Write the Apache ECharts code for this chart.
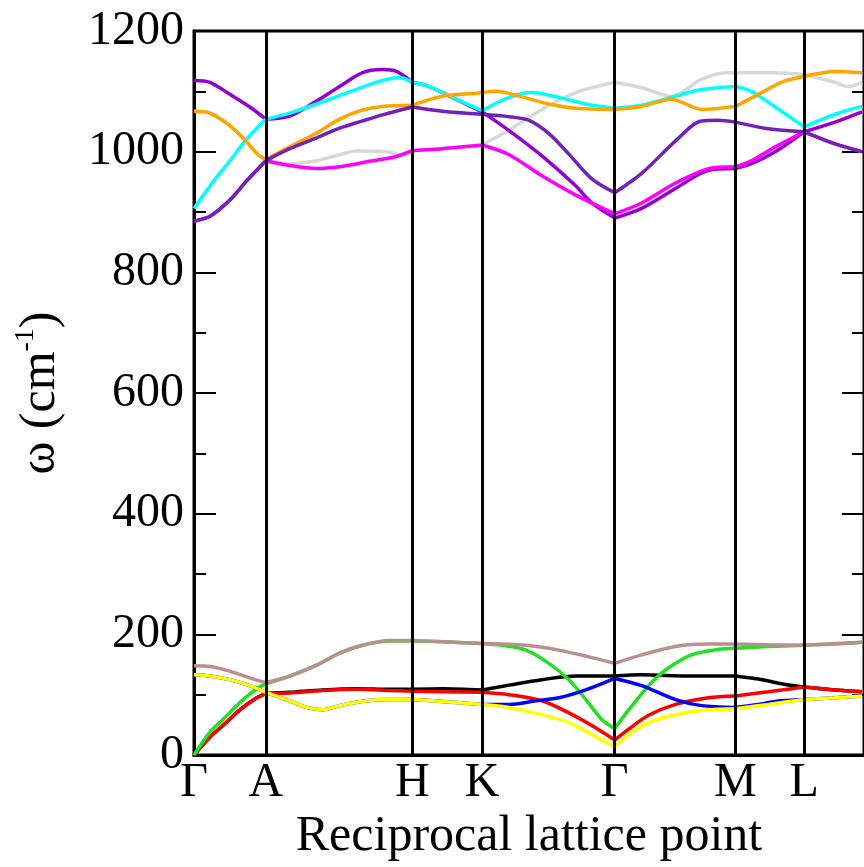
<!DOCTYPE html>
<html><head><meta charset="utf-8">
<script src="https://cdn.jsdelivr.net/npm/echarts@6/dist/echarts.min.js"></script>
<style>html,body{margin:0;padding:0;background:#fff}#c{width:864px;height:867px}</style>
</head><body><div id="c"></div>
<script>
// high-symmetry points (path distance) and labels
const KPOS = [0, 72, 219, 289, 422, 543, 612];
const KLABELS = ['Γ', 'A', 'H', 'K', 'Γ', 'M', 'L'];
const PATH_END = 670;

// phonon branches [path distance, frequency cm^-1]
const black = [[0,0],[16,30],[29,49],[46,75],[63,95],[72,102],[96,104],[129,108],[163,110],[196,109],[219,109],[249,110],[289,108],[316,116],[349,125],[383,131],[422,131],[449,133],[499,131],[543,131],[566,126],[593,117],[612,113],[643,108],[670,105]];
const red = [[0,0],[16,30],[29,49],[46,75],[63,95],[72,102],[96,103],[129,107],[163,109],[196,107],[219,106],[249,105],[289,104],[316,100],[349,90],[376,70],[399,49],[422,25],[436,43],[456,66],[483,84],[516,95],[543,98],[576,105],[612,113],[643,108],[670,105]];
const green = [[0,0],[16,38],[29,59],[46,87],[63,110],[72,118],[96,131],[123,149],[146,169],[169,182],[196,189],[219,189],[249,188],[289,185],[309,182],[333,174],[356,152],[376,125],[393,92],[409,59],[422,44],[436,75],[456,115],[473,141],[499,166],[526,175],[543,177],[576,180],[612,182],[643,184],[670,187]];
const blue = [[0,133],[16,131],[36,125],[56,115],[72,104],[96,90],[113,79],[129,75],[146,82],[173,90],[196,92],[219,92],[249,89],[289,84],[316,84],[343,90],[366,95],[393,108],[422,127],[449,115],[483,92],[509,82],[543,79],[566,84],[583,89],[612,92],[643,95],[670,98]];
const yellow = [[0,133],[16,131],[36,125],[56,115],[72,104],[96,90],[113,79],[129,75],[146,82],[173,90],[196,92],[219,92],[249,89],[289,84],[316,79],[349,67],[376,54],[399,34],[422,14],[436,34],[456,54],[483,67],[516,75],[543,77],[576,84],[612,92],[643,95],[670,98]];
const brown = [[0,148],[16,147],[36,139],[56,128],[72,120],[96,131],[123,149],[146,169],[169,182],[196,190],[219,190],[249,188],[289,185],[333,182],[366,174],[393,164],[422,152],[449,166],[483,180],[516,184],[543,184],[576,183],[612,182],[670,187]];
const grey = [[0,1067],[16,1064],[36,1043],[53,1016],[63,997],[72,987],[96,980],[123,985],[146,995],[163,1001],[193,1000],[209,994],[219,1002],[249,1005],[289,1011],[316,1036],[349,1070],[383,1098],[422,1115],[449,1106],[479,1092],[509,1120],[533,1131],[543,1131],[583,1131],[612,1128],[643,1115],[656,1108],[670,1115]];
const violet = [[0,1118],[16,1115],[36,1095],[56,1074],[72,1054],[96,1059],[123,1084],[146,1108],[169,1131],[189,1136],[203,1133],[219,1115],[236,1108],[259,1090],[289,1066],[316,1035],[349,993],[383,943],[399,915],[422,890],[449,906],[483,939],[516,969],[543,972],[559,980],[583,1000],[612,1033],[643,1049],[670,1066]];
const cyan = [[0,906],[16,943],[36,985],[53,1021],[72,1054],[96,1064],[123,1079],[146,1093],[169,1107],[189,1118],[206,1123],[219,1115],[236,1108],[259,1090],[289,1068],[316,1090],[339,1098],[366,1090],[393,1079],[422,1072],[449,1077],[479,1090],[509,1103],[543,1108],[559,1100],[583,1074],[612,1041],[643,1062],[670,1075]];
const magenta = [[0,885],[16,893],[36,920],[53,952],[72,985],[96,977],[123,972],[146,975],[176,984],[203,992],[219,1002],[249,1005],[289,1011],[316,995],[349,960],[383,928],[422,897],[449,915],[483,948],[516,972],[543,975],[559,985],[583,1008],[612,1033],[643,1013],[670,1000]];
const orange = [[0,1067],[16,1064],[36,1043],[53,1016],[63,997],[72,987],[96,1008],[123,1031],[146,1054],[169,1069],[189,1075],[219,1077],[249,1092],[283,1097],[289,1098],[303,1100],[326,1092],[356,1079],[383,1072],[422,1070],[449,1075],[479,1087],[509,1070],[543,1075],[566,1095],[589,1115],[612,1125],[643,1133],[670,1131]];
const indigo = [[0,885],[16,893],[36,920],[53,952],[72,985],[96,1005],[123,1023],[146,1039],[169,1051],[189,1061],[219,1074],[249,1067],[289,1062],[316,1058],[336,1052],[356,1030],[376,996],[399,955],[422,932],[449,964],[483,1018],[509,1051],[526,1052],[543,1049],[576,1038],[612,1033],[643,1013],[670,1000]];

const BRANCHES = [black, red, green, blue, yellow, brown, grey, violet, cyan, magenta, orange, indigo];
const COLORS = ['#000000','#ff0000','#22e022','#0000ff','#ffff00','#bc8f8f','#d8d8d8','#9400d3','#00ffff','#ff00ff','#ffa500','#7221bc'];

const FONT = '"Liberation Serif", "DejaVu Serif", serif';
const bounds = KPOS.concat([PATH_END]);
const series = [];
BRANCHES.forEach((b, bi) => {
  for (let s = 0; s < bounds.length - 1; s++) {
    const a = bounds[s], e = bounds[s + 1];
    const seg = b.filter(p => p[0] >= a && p[0] <= e);
    series.push({
      type: 'line', data: seg, smooth: 0.3, showSymbol: false, symbol: 'none',
      lineStyle: { color: COLORS[bi], width: 3.5 }, silent: true, animation: false
    });
  }
});
series.push({
  type: 'line', data: [], showSymbol: false, silent: true, animation: false,
  markLine: {
    symbol: 'none', silent: true, animation: false, label: { show: false },
    lineStyle: { color: '#000', width: 3, type: 'solid' },
    data: KPOS.slice(1).map(x => ({ xAxis: x }))
  }
});

const chart = echarts.init(document.getElementById('c'), null, { renderer: 'canvas' });
chart.setOption({
  backgroundColor: '#ffffff',
  animation: false,
  grid: { left: 194, top: 31, width: 672, height: 732, show: true, borderColor: '#000', borderWidth: 3, backgroundColor: 'transparent' },
  xAxis: {
    type: 'value', min: 0, max: 672,
    axisLine: { show: true, lineStyle: { color: '#000', width: 3 } },
    axisTick: { show: false },
    splitLine: { show: false },
    axisLabel: {
      customValues: KPOS,
      formatter: (v, i) => { const k = KPOS.indexOf(v); return KLABELS[k >= 0 ? k : i]; },
      fontFamily: FONT, fontSize: 48, color: '#000', margin: 4
    },
    name: 'Reciprocal lattice point', nameLocation: 'middle', nameGap: 52,
    nameTextStyle: { fontFamily: FONT, fontSize: 50, color: '#000' }
  },
  yAxis: [{
    type: 'value', min: 0, max: 1200, interval: 200,
    axisLine: { show: true, lineStyle: { color: '#000', width: 3 } },
    axisTick: { show: true, inside: true, length: 22, lineStyle: { color: '#000', width: 2 } },
    minorTick: { show: true, splitNumber: 2, length: 12, lineStyle: { color: '#000', width: 2 } },
    splitLine: { show: false },
    axisLabel: { fontFamily: FONT, fontSize: 48, color: '#000', margin: 10, formatter: v => String(v) },
    name: '{a|ω (cm}{s|-1}{a|)}', nameLocation: 'middle', nameGap: 124,
    nameTextStyle: {
      fontFamily: FONT, fontSize: 50, color: '#000',
      rich: {
        a: { fontFamily: FONT, fontSize: 50, color: '#000' },
        s: { fontFamily: FONT, fontSize: 28, color: '#000', padding: [0, 0, 30, 0] }
      }
    }
  }, {
    type: 'value', min: 0, max: 1200, interval: 200, position: 'right',
    axisLine: { show: true, lineStyle: { color: '#000', width: 3 } },
    axisTick: { show: true, inside: true, length: 22, lineStyle: { color: '#000', width: 2 } },
    minorTick: { show: true, splitNumber: 2, length: 12, lineStyle: { color: '#000', width: 2 } },
    splitLine: { show: false },
    axisLabel: { show: false }
  }],
  series: series
});
</script>
</body></html>
